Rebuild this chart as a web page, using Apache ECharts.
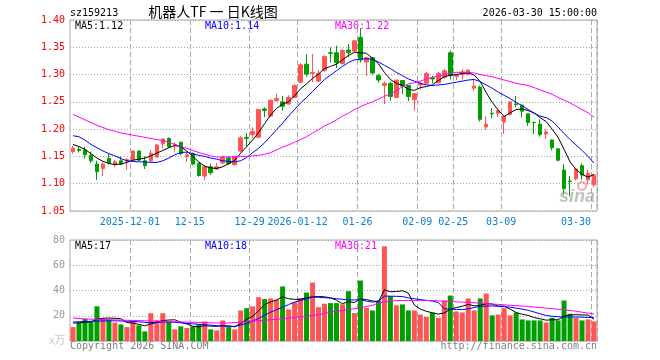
<!DOCTYPE html>
<html><head><meta charset="utf-8">
<script src="https://cdn.jsdelivr.net/npm/echarts@6/dist/echarts.min.js"></script>
<style>html,body{margin:0;padding:0;background:#fff;}#c{width:660px;height:360px;}</style>
</head><body><div id="c"></div>
<script>
const dates = [
 '2025-11-17','2025-11-18','2025-11-19','2025-11-20','2025-11-21','2025-11-24','2025-11-25','2025-11-26','2025-11-27','2025-11-28',
 '2025-12-01','2025-12-02','2025-12-03','2025-12-04','2025-12-05','2025-12-08','2025-12-09','2025-12-10','2025-12-11','2025-12-12',
 '2025-12-15','2025-12-16','2025-12-17','2025-12-18','2025-12-19','2025-12-22','2025-12-23','2025-12-24','2025-12-25','2025-12-26',
 '2025-12-29','2025-12-30','2025-12-31','2026-01-05','2026-01-06','2026-01-07','2026-01-08','2026-01-09',
 '2026-01-12','2026-01-13','2026-01-14','2026-01-15','2026-01-16','2026-01-19','2026-01-20','2026-01-21','2026-01-22','2026-01-23',
 '2026-01-26','2026-01-27','2026-01-28','2026-01-29','2026-01-30','2026-02-02','2026-02-03','2026-02-04','2026-02-05','2026-02-06',
 '2026-02-09','2026-02-10','2026-02-11','2026-02-12','2026-02-13','2026-02-24','2026-02-25','2026-02-26','2026-02-27',
 '2026-03-02','2026-03-03','2026-03-04','2026-03-05','2026-03-06','2026-03-09','2026-03-10','2026-03-11','2026-03-12','2026-03-13',
 '2026-03-16','2026-03-17','2026-03-18','2026-03-19','2026-03-20','2026-03-23','2026-03-24','2026-03-25','2026-03-26','2026-03-27',
 '2026-03-30'];
const tickDates = ['2025-12-01','2025-12-15','2025-12-29','2026-01-12','2026-01-26','2026-02-09','2026-02-25','2026-03-09','2026-03-30'];
const tickLabels = ['2025-12-01','12-15','12-29','2026-01-12','01-26','02-09','02-25','03-09','03-30'];

const openP = [1.159,1.163,1.162,1.152,1.136,1.128,1.146,1.136,1.142,1.141,
 1.144,1.160,1.142,1.142,1.149,1.173,1.183,1.170,1.176,1.150,
 1.155,1.137,1.114,1.131,1.127,1.138,1.147,1.135,1.160,1.185,
 1.190,1.185,1.237,1.224,1.252,1.250,1.246,1.258,1.286,1.319,
 1.302,1.288,1.308,1.340,1.340,1.320,1.345,1.343,1.368,1.323,
 1.331,1.298,1.280,1.284,1.258,1.289,1.280,1.254,1.281,1.284,
 1.294,1.285,1.295,1.340,1.297,1.300,1.301,1.275,1.277,1.204,
 1.229,1.229,1.213,1.227,1.246,1.244,1.228,1.2125,1.209,1.191,
 1.180,1.164,1.125,1.105,1.109,1.133,1.107,1.098];
const closeP = [1.165,1.161,1.153,1.142,1.122,1.136,1.138,1.140,1.136,1.144,
 1.160,1.143,1.133,1.156,1.171,1.182,1.168,1.172,1.155,1.153,
 1.136,1.115,1.131,1.120,1.131,1.148,1.137,1.150,1.184,1.183,
 1.196,1.236,1.234,1.253,1.256,1.242,1.258,1.280,1.318,1.301,
 1.304,1.302,1.333,1.339,1.322,1.344,1.340,1.362,1.327,1.331,
 1.303,1.290,1.284,1.260,1.290,1.279,1.260,1.265,1.284,1.302,
 1.292,1.302,1.307,1.298,1.299,1.305,1.308,1.279,1.218,1.209,
 1.228,1.234,1.224,1.250,1.245,1.233,1.212,1.212,1.190,1.195,
 1.166,1.143,1.091,1.104,1.127,1.116,1.119,1.116];
const lowP = [1.155,1.157,1.146,1.138,1.107,1.114,1.135,1.130,1.134,1.126,
 1.143,1.142,1.127,1.139,1.148,1.165,1.166,1.157,1.152,1.140,
 1.134,1.113,1.107,1.116,1.125,1.136,1.134,1.133,1.158,1.168,
 1.183,1.184,1.222,1.222,1.250,1.234,1.245,1.258,1.285,1.296,
 1.286,1.287,1.305,1.322,1.312,1.318,1.332,1.341,1.322,1.298,
 1.300,1.285,1.246,1.252,1.257,1.264,1.251,1.234,1.273,1.282,
 1.284,1.284,1.292,1.291,1.290,1.291,1.298,1.270,1.214,1.199,
 1.220,1.222,1.191,1.225,1.240,1.221,1.206,1.191,1.186,1.182,
 1.161,1.141,1.080,1.077,1.106,1.107,1.098,1.094];
const highP = [1.169,1.167,1.168,1.159,1.142,1.139,1.154,1.144,1.150,1.147,
 1.161,1.160,1.150,1.162,1.173,1.183,1.185,1.176,1.177,1.158,
 1.157,1.139,1.134,1.137,1.138,1.152,1.151,1.151,1.187,1.193,
 1.203,1.237,1.240,1.255,1.265,1.261,1.262,1.282,1.321,1.337,
 1.338,1.308,1.336,1.350,1.353,1.347,1.356,1.362,1.385,1.332,
 1.332,1.301,1.287,1.287,1.290,1.289,1.281,1.266,1.286,1.305,
 1.298,1.305,1.310,1.344,1.300,1.310,1.310,1.292,1.280,1.224,
 1.238,1.237,1.224,1.250,1.261,1.244,1.228,1.2125,1.218,1.200,
 1.181,1.165,1.136,1.114,1.128,1.137,1.126,1.118];
const volume = [11,14.8,17.5,15.1,27.5,17,17,14.6,13.1,11,
 15.3,12.4,7.6,22,16.4,22,15,9.2,11.6,10.3,
 11.6,13.2,15.5,9.2,8.4,16.3,11,9.2,24.2,26,
 27.4,34.7,33.2,33.7,32.6,43.2,25,30.8,34,38.4,
 46.3,26.8,29.5,30,30,29,39.5,22.1,47.9,26.3,
 24.2,32.1,75,35.5,28.2,29,24.2,24.2,21,19,
 22.4,18.2,32.1,36,23.4,22.6,33.7,24.2,33.7,37.6,
 20.3,21,26,20.3,22.4,17.1,16.3,16.3,16.3,14.7,
 18.4,16.3,32.1,21.6,18.2,16.3,17.1,15.5];
const ma5 = [1.172,1.168,1.163,1.155,1.147,1.141,1.137,1.135,1.136,1.139,
 1.143,1.145,1.147,1.151,1.156,1.161,1.166,1.170,1.168,1.160,
 1.150,1.140,1.132,1.129,1.128,1.131,1.137,1.143,1.156,1.168,
 1.180,1.194,1.210,1.226,1.238,1.246,1.250,1.261,1.274,1.283,
 1.293,1.301,1.311,1.315,1.319,1.327,1.335,1.341,1.340,1.339,
 1.330,1.320,1.304,1.291,1.284,1.280,1.273,1.271,1.276,1.278,
 1.281,1.289,1.296,1.299,1.300,1.302,1.303,1.299,1.287,1.267,
 1.249,1.235,1.223,1.230,1.236,1.237,1.234,1.230,1.221,1.214,
 1.200,1.185,1.163,1.140,1.126,1.117,1.112,1.117];
const ma10 = [1.188,1.186,1.180,1.172,1.166,1.160,1.155,1.151,1.146,1.142,
 1.141,1.140,1.140,1.139,1.139,1.142,1.147,1.153,1.157,1.158,
 1.155,1.152,1.150,1.147,1.145,1.142,1.141,1.140,1.142,1.148,
 1.157,1.165,1.175,1.187,1.199,1.211,1.224,1.236,1.248,1.258,
 1.269,1.280,1.291,1.299,1.307,1.315,1.322,1.327,1.328,1.329,
 1.328,1.323,1.317,1.311,1.304,1.298,1.292,1.288,1.284,1.281,
 1.280,1.281,1.282,1.284,1.286,1.288,1.290,1.291,1.287,1.281,
 1.275,1.268,1.262,1.256,1.249,1.243,1.236,1.229,1.224,1.221,
 1.215,1.204,1.192,1.181,1.171,1.161,1.150,1.138];
const ma30 = [1.227,1.222,1.217,1.212,1.207,1.203,1.199,1.196,1.193,1.191,
 1.189,1.187,1.185,1.183,1.181,1.179,1.176,1.172,1.168,1.165,
 1.161,1.157,1.154,1.151,1.149,1.149,1.149,1.149,1.150,1.150,
 1.151,1.152,1.154,1.157,1.162,1.167,1.171,1.176,1.181,1.186,
 1.193,1.199,1.206,1.211,1.217,1.224,1.229,1.236,1.241,1.246,
 1.250,1.255,1.260,1.265,1.270,1.278,1.283,1.285,1.288,1.292,
 1.295,1.297,1.300,1.302,1.304,1.304,1.304,1.303,1.300,1.298,
 1.296,1.293,1.290,1.287,1.284,1.282,1.280,1.276,1.272,1.268,
 1.264,1.258,1.253,1.248,1.242,1.236,1.230,1.222];
const vma5 = [14.2,14.4,14.8,15.2,17.2,18,18.2,18,17.6,14.6,
 14.2,13.2,12,13.5,14.8,16.2,16.6,16.8,14.8,13.5,
 11.6,11.2,12.2,11.8,11.6,12.2,12,11.2,13.8,17.2,
 19.5,24,29,31,32.5,35,33.5,33,33,34.3,
 35,35.2,35,34.2,32.3,29.5,31.2,30.5,33.3,32.8,
 31.8,31,40.5,39,39.2,39.8,38,28.5,25.3,23.5,
 22.4,21.3,22.2,25.2,26.5,27.5,29,27.8,28.2,29.5,
 29.3,27.6,27.6,25.2,22.5,21.2,20.3,18.6,17.6,16.5,
 16.8,16.8,19.8,20.6,20.8,20.6,20.6,17.4];
const vma10 = [15,15.2,15.4,15.6,15.8,15.9,16,16,15.8,15.7,
 15.5,15.2,14.8,14.6,14.7,15,15.1,14.8,14.4,14,
 13.6,13.2,12.9,12.5,12.2,11.9,11.6,11.6,12.6,14,
 15.8,17.8,20.5,22.8,24.8,26.8,28.8,30.8,32.1,33.4,
 34.8,34.6,34.3,34,33.5,33,32.6,32.5,32.8,31.5,
 30.8,31.5,35.6,35.5,35.4,35.2,34.2,33.5,32.8,32.2,
 31.6,30.5,25.5,25.2,25,24.8,25.5,26.5,27.4,27.6,
 27.8,27.5,27.2,26.8,26,25.3,24.3,23,21.5,20.3,
 19.6,19.2,19,19,19,18.9,18.7,18.4];
const vma30 = [18.2,17.8,17.5,17.3,17.1,17,16.9,16.7,16.5,16.4,
 16.3,16.2,16,15.9,15.7,15.6,15.4,15.3,15.1,15,
 14.8,14.7,14.6,14.4,14.3,14.2,14.3,14.6,14.9,15.3,
 15.8,16.1,16.4,16.8,17.2,17.6,18.1,18.6,19.1,19.6,
 20.2,20.9,21.8,22.9,23.6,24.3,25,25.6,26.3,27.3,
 28.3,30,31,31.6,32.1,32.1,32.1,32.1,32.1,32.1,
 32,31.8,31.6,31.3,31,30.8,30.6,30.3,30,29.6,
 29.2,29,28.7,28.3,28,27.7,27.4,26.9,26.5,26,
 25.6,25.1,24.7,24.2,23.6,22.8,22.1,21.4];

const UP = '#ff5555', DOWN = '#009f00';
const MONO = '"DejaVu Sans Mono", monospace';
const GRIDC = '#a8a8a8';
const isTick = (v) => tickDates.indexOf(v) >= 0;
const last = (a) => a[a.length - 1];

const catData = dates.map((d, i) => i === dates.length - 1
  ? {value: d, textStyle: {align: 'right', padding: [0, 3, 0, 0]}} : d);

const chart = echarts.init(document.getElementById('c'), null, {renderer: 'canvas'});
const xCommon = {
  type: 'category', boundaryGap: true,
  axisLine: {show: false}, axisTick: {show: false},
  splitLine: {show: true, interval: (i, v) => isTick(v), lineStyle: {color: GRIDC, type: [5, 3], width: 1}}
};
const mkText = (x, y, text, fill, extra) => ({type: 'text', x, y, silent: true,
  style: Object.assign({text, fill, font: '10px ' + MONO, textVerticalAlign: 'middle'}, extra || {})});

chart.setOption({
  animation: false,
  backgroundColor: '#fff',
  grid: [
    {left: 70, top: 20, width: 527, height: 191, show: true, borderColor: GRIDC, borderWidth: 1},
    {left: 70, top: 240, width: 527, height: 101, show: true, borderColor: GRIDC, borderWidth: 1}
  ],
  xAxis: [
    Object.assign({}, xCommon, {gridIndex: 0, data: catData,
      axisLabel: {show: true, interval: (i, v) => isTick(v), formatter: (v) => tickLabels[tickDates.indexOf(v)],
        color: '#0a7fd0', fontFamily: MONO, fontSize: 10, margin: 6, padding: [0, 6, 0, 0]}}),
    Object.assign({}, xCommon, {gridIndex: 1, data: dates, axisLabel: {show: false}})
  ],
  yAxis: [
    {type: 'value', gridIndex: 0, min: 1.05, max: 1.40, interval: 0.05, scale: true,
      axisLine: {show: false}, axisTick: {show: false},
      axisLabel: {color: '#ff0000', fontFamily: MONO, fontSize: 10, margin: 5, formatter: (v) => v.toFixed(2)},
      splitLine: {show: true, lineStyle: {color: GRIDC, type: [1, 2], width: 1}}},
    {type: 'value', gridIndex: 1, min: 0, max: 80, interval: 20,
      axisLine: {show: false}, axisTick: {show: false},
      axisLabel: {color: '#999', fontFamily: MONO, fontSize: 10, margin: 5, formatter: (v) => v === 0 ? '' : String(v)},
      splitLine: {show: true, lineStyle: {color: GRIDC, type: [1, 2], width: 1}}}
  ],
  series: [
    {type: 'candlestick', xAxisIndex: 0, yAxisIndex: 0, barWidth: 4,
      data: dates.map((d, i) => [openP[i], closeP[i], lowP[i], highP[i]]),
      itemStyle: {color: UP, color0: DOWN, borderColor: UP, borderColor0: DOWN, borderWidth: 1}},
    {type: 'line', xAxisIndex: 0, yAxisIndex: 0, data: ma5, symbol: 'none', z: 5, lineStyle: {color: '#000', width: 1}},
    {type: 'line', xAxisIndex: 0, yAxisIndex: 0, data: ma10, symbol: 'none', z: 5, lineStyle: {color: '#0000ff', width: 1}},
    {type: 'line', xAxisIndex: 0, yAxisIndex: 0, data: ma30, symbol: 'none', z: 5, lineStyle: {color: '#ff00ff', width: 1}},
    {type: 'bar', xAxisIndex: 1, yAxisIndex: 1, barWidth: 5,
      data: volume.map((v, i) => ({value: v, itemStyle: {color: closeP[i] < openP[i] ? DOWN : UP}}))},
    {type: 'line', xAxisIndex: 1, yAxisIndex: 1, data: vma5, symbol: 'none', z: 5, lineStyle: {color: '#000', width: 1}},
    {type: 'line', xAxisIndex: 1, yAxisIndex: 1, data: vma10, symbol: 'none', z: 5, lineStyle: {color: '#0000ff', width: 1}},
    {type: 'line', xAxisIndex: 1, yAxisIndex: 1, data: vma30, symbol: 'none', z: 5, lineStyle: {color: '#ff00ff', width: 1}}
  ],
  graphic: [
    mkText(70, 13, 'sz159213', '#000'),
    {type: 'text', x: 213, y: 12, silent: true, style: {text: '机器人TF 一 日K线图', fill: '#000',
      font: '14px "Noto Sans CJK SC"', textAlign: 'center', textVerticalAlign: 'middle'}},
    mkText(597, 13, '2026-03-30 15:00:00', '#000', {textAlign: 'right'}),
    mkText(75, 26, 'MA5:' + last(ma5).toFixed(2), '#000'),
    mkText(205, 26, 'MA10:' + last(ma10).toFixed(2), '#0000ff'),
    mkText(335, 26, 'MA30:' + last(ma30).toFixed(2), '#ff00ff'),
    mkText(75, 246, 'MA5:' + Math.round(last(vma5)), '#000'),
    mkText(205, 246, 'MA10:' + Math.round(last(vma10)), '#0000ff'),
    mkText(335, 246, 'MA30:' + Math.round(last(vma30)), '#ff00ff'),
    {type: 'text', x: 49, y: 340, silent: true, style: {text: 'x万', fill: '#c8c8c8',
      font: '11px "Noto Sans CJK SC"', textVerticalAlign: 'middle'}},
    mkText(70, 346, 'Copyright 2026 SINA.COM', '#808080'),
    mkText(597, 346, 'http://finance.sina.com.cn', '#808080', {textAlign: 'right'}),
    {type: 'text', x: 595, y: 197, silent: true, z: 100, style: {text: 'sina', fill: 'rgba(140,140,140,0.55)',
      font: 'italic bold 18px "Liberation Sans"', textAlign: 'right', textVerticalAlign: 'middle'}},
    {type: 'circle', silent: true, z: 100, shape: {cx: 582, cy: 186, r: 4},
      style: {fill: 'none', stroke: 'rgba(230,90,90,0.5)', lineWidth: 2}}
  ]
});
</script></body></html>
